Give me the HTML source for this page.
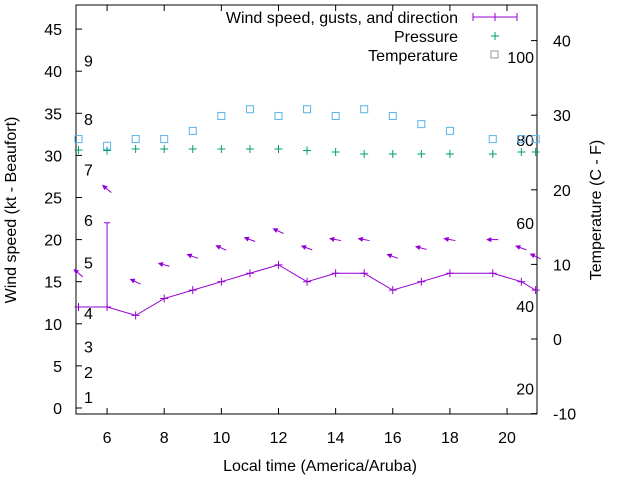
<!DOCTYPE html>
<html><head><meta charset="utf-8"><style>
body{margin:0;background:#fff}
svg{display:block;font-family:"Liberation Sans",sans-serif}
</style></head><body>
<svg id="c" width="640" height="480" viewBox="0 0 640 480">
<rect x="0" y="0" width="640" height="480" fill="#fff"/>
<g id="axes"></g>
<g id="marks"></g>
<text x="16" y="210" font-size="16" text-anchor="middle" transform="rotate(-90 16 210)">Wind speed (kt - Beaufort)</text>
<text x="601" y="210" font-size="16" text-anchor="middle" transform="rotate(-90 601 210)">Temperature (C - F)</text>
<text x="320" y="471" font-size="16" text-anchor="middle">Local time (America/Aruba)</text>
<g font-size="16">
<text x="458" y="23" text-anchor="end">Wind speed, gusts, and direction</text>
<line x1="473" y1="17" x2="517" y2="17" stroke="#9400d3"/>
<line x1="473" y1="13" x2="473" y2="21" stroke="#9400d3"/><line x1="517" y1="13" x2="517" y2="21" stroke="#9400d3"/>
<line x1="495" y1="13" x2="495" y2="21" stroke="#9400d3"/>
<text x="458" y="42" text-anchor="end">Pressure</text>
<path d="M491,36H499M495,32V40" stroke="#009e73"/>
<text x="458" y="61" text-anchor="end">Temperature</text>
<rect x="491" y="51" width="7" height="7" fill="none" stroke="#999"/>
</g>
</svg>
<script>
const hours=[5,6,7,8,9,10,11,12,13,14,15,16,17,18,19.5,20.5,21];
const wind=[12,12,11,13,14,15,16,17,15,16,16,14,15,16,16,15,14];
const gustHours=[6];
const gustValues=[22];
const arrowLevel=[16,26,15,17,18,19,20,21,19,20,20,18,19,20,20,19,18];
const windDirDeg=[40,40,25,15,20,25,20,25,20,10,10,20,15,10,0,20,25];
const pressure=[1012.6,1012.4,1013,1013,1013,1013,1013,1013,1012.4,1011.8,1011,1011,1011,1011,1011,1011.8,1011.8];
const tempC=[26.8,25.9,26.8,26.8,27.9,29.9,30.8,29.9,30.8,29.9,30.8,29.9,28.8,27.9,26.8,26.8,26.8];
const xTicks=[6,8,10,12,14,16,18,20];
const yTicks=[0,5,10,15,20,25,30,35,40,45];
const y2Ticks=[-10,0,10,20,30,40];
const beaufort=[1,2,3,4,5,6,7,8,9];
const beaufortKt=[1.3,4.3,7.3,11.3,17.3,22.3,28.3,34.3,41.3];
const fahr=[20,40,60,80,100];

const L=76,R=537,T=5,B=414;
const X=h=>78.5+(h-5)*28.57;
const Y=v=>408-v*8.42;
const Y2=t=>339-t*7.46;
const YP=p=>149+(1013-p)*2.5;
const NS='http://www.w3.org/2000/svg';
function mk(tag,attrs,parent){const e=document.createElementNS(NS,tag);for(const k in attrs)e.setAttribute(k,attrs[k]);parent.appendChild(e);return e;}
const ax=document.getElementById('axes'),mg=document.getElementById('marks');
const frame=mk('rect',{x:L,y:T,width:R-L,height:B-T,fill:'none',stroke:'#000'},ax);


xTicks.forEach(h=>{const x=X(h);
 mk('line',{x1:x,y1:B,x2:x,y2:B-6,stroke:'#000'},ax);
 mk('line',{x1:x,y1:T,x2:x,y2:T+6,stroke:'#000'},ax);
 const t=mk('text',{x:x,y:443,'font-size':16,'text-anchor':'middle'},ax);t.textContent=h;
 
 });
yTicks.forEach(v=>{const y=Y(v);
 mk('line',{x1:L,y1:y,x2:L+6,y2:y,stroke:'#000'},ax);
 const t=mk('text',{x:62,y:y+6,'font-size':16,'text-anchor':'end'},ax);t.textContent=v;
 
 });
y2Ticks.forEach(v=>{const y=Y2(v);
 mk('line',{x1:R,y1:y,x2:R-6,y2:y,stroke:'#000'},ax);
 const t=mk('text',{x:553,y:y+6,'font-size':16},ax);t.textContent=v;
 
 });
beaufort.forEach((b,i)=>{const t=mk('text',{x:84,y:Y(beaufortKt[i])+6,'font-size':16},ax);t.textContent=b;
 
 });
fahr.forEach(f=>{const c=(f-32)*5/9;const t=mk('text',{x:534,y:Y2(c)+6,'font-size':16,'text-anchor':'end'},ax);t.textContent=f;
 
 });
tempC.forEach((c,i)=>{const r=mk('rect',{x:X(hours[i])-3.5,y:Y2(c)-3.5,width:7,height:7,fill:'none',stroke:'#56b4e9'},mg);
 
 });
pressure.forEach((p,i)=>{const x=X(hours[i]),y=YP(p);
 const g=mk('path',{d:`M${x-4},${y}H${x+4}M${x},${y-4}V${y+4}`,stroke:'#009e73','stroke-width':1},mg);
 
 });
const wl=mk('polyline',{points:hours.map((h,i)=>X(h)+','+Y(wind[i])).join(' '),fill:'none',stroke:'#9400d3'},mg);


hours.forEach((h,i)=>{const x=X(h),y=Y(wind[i]);
 const p=mk('path',{d:`M${x-4},${y}H${x+4}M${x},${y-4}V${y+4}`,stroke:'#9400d3'},mg);
 
 });
mk('line',{x1:L,y1:Y(wind[0]),x2:X(hours[0]),y2:Y(wind[0]),stroke:'#9400d3'},mg);
gustHours.forEach((h,i)=>{const x=X(h);const wi=hours.indexOf(h);
 const p=mk('path',{d:`M${x},${Y(wind[wi])}V${Y(gustValues[i])}M${x-3},${Y(gustValues[i])}H${x+3}`,stroke:'#9400d3'},mg);
 
 });
hours.forEach((h,i)=>{const cx=X(h),cy=Y(arrowLevel[i]);const a=windDirDeg[i]*Math.PI/180;
 const dx=-Math.cos(a)*5.5,dy=-Math.sin(a)*5.5;
 const x1=cx-dx,y1=cy-dy,x2=cx+dx,y2=cy+dy;
 const g=mk('g',{},mg);
 
 
 mk('line',{x1:x1,y1:y1,x2:x2,y2:y2,stroke:'#9400d3'},g);
 const ang=Math.atan2(dy,dx);const hl=4,hw=0.45;
 const p1=[x2-hl*Math.cos(ang-hw),y2-hl*Math.sin(ang-hw)],p2=[x2-hl*Math.cos(ang+hw),y2-hl*Math.sin(ang+hw)];
 mk('polygon',{points:`${x2},${y2} ${p1} ${p2}`,fill:'#9400d3',stroke:'#9400d3'},g);});
</script>
</body></html>
